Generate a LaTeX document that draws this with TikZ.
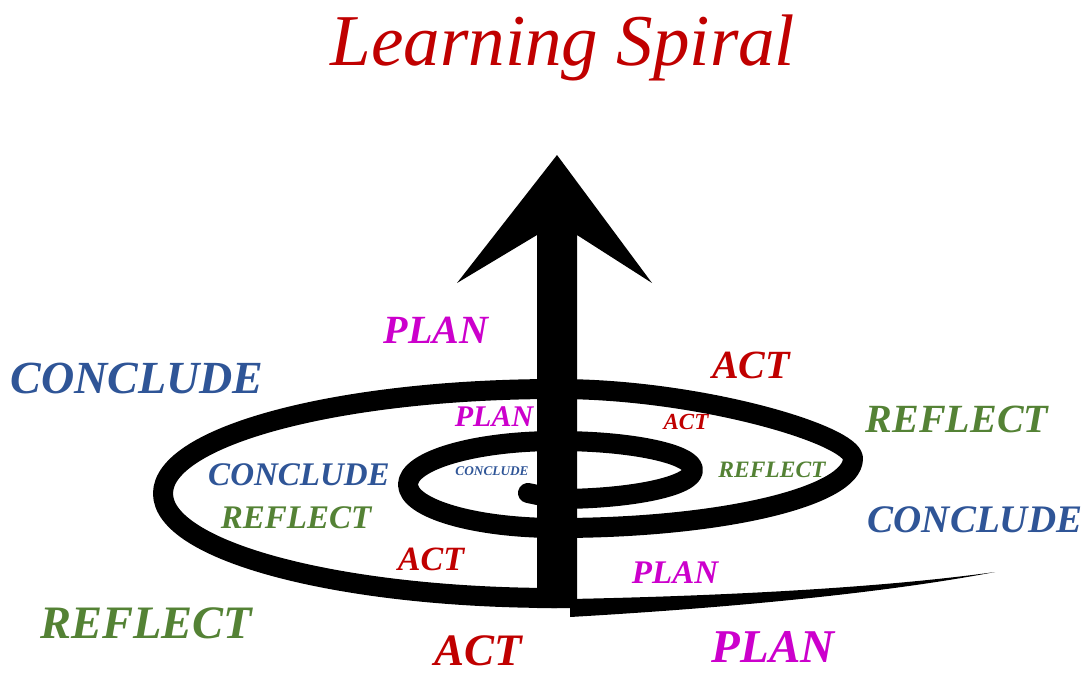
\documentclass[tikz,border=0pt]{standalone}
\usepackage{fontspec}
\setmainfont{Liberation Serif}
\definecolor{cred}{HTML}{C00000}
\definecolor{cmag}{HTML}{CC00CC}
\definecolor{cblue}{HTML}{2F5597}
\definecolor{cgreen}{HTML}{548235}
\tikzset{
  lbl/.style={anchor=base, inner sep=0pt, font=\bfseries\itshape\fontsize{#1}{#1}\selectfont},
  plan/.style={lbl=#1, text=cmag},
  act/.style={lbl=#1, text=cred},
  refl/.style={lbl=#1, text=cgreen},
  concl/.style={lbl=#1, text=cblue},
  band/.style={line width=20pt, line cap=round, line join=round, draw=black}
}
\begin{document}
\begin{tikzpicture}[x=1pt,y=-1pt]
\useasboundingbox (0,0) rectangle (1086,675);
% title
\node[anchor=base, inner sep=0pt, text=cred, font=\itshape\fontsize{73}{73}\selectfont] (title) at (563,65) {Learning Spiral};
% spiral
\draw[band] (528,493) -- (557,499)
  arc[start angle=90, end angle=-90, x radius=136, y radius=29]
  arc[start angle=-90, end angle=-270, x radius=149, y radius=43.5]
  arc[start angle=90, end angle=0, x radius=296, y radius=69.5]
  .. controls (853,435) and (700,389) .. (557,389)
  arc[start angle=-90, end angle=-270, x radius=394, y radius=104.5];
% tail
\fill[black] (570,599) .. controls (720,596) and (880,588) .. (995,572)
  .. controls (900,590) and (760,606) .. (570,617) -- cycle;
% arrow
\fill[black] (557,155) -- (652,283) -- (577,235) -- (577,608) -- (537,608) -- (537,235) -- (457,283) -- cycle;
% labels
\node[plan=40] (p1) at (436,343) {PLAN};
\node[concl=46] (c1) at (137,393) {CONCLUDE};
\node[act=40] (a1) at (751,378) {ACT};
\node[refl=40] (r1) at (957,432) {REFLECT};
\node[plan=30] (p2) at (494,426) {PLAN};
\node[act=23] (a2) at (686,429) {ACT};
\node[concl=33] (c2) at (299,485) {CONCLUDE};
\node[concl=13.3] (c3) at (492,475) {CONCLUDE};
\node[refl=23.5] (r2) at (772,477) {REFLECT};
\node[refl=33] (r3) at (296,528) {REFLECT};
\node[concl=39] (c4) at (975,532) {CONCLUDE};
\node[act=34] (a3) at (431,570) {ACT};
\node[plan=33] (p3) at (675,583) {PLAN};
\node[refl=46.5] (r4) at (146,638) {REFLECT};
\node[act=45] (a4) at (478,665) {ACT};
\node[plan=47] (p4) at (773,662) {PLAN};
\end{tikzpicture}
\end{document}
